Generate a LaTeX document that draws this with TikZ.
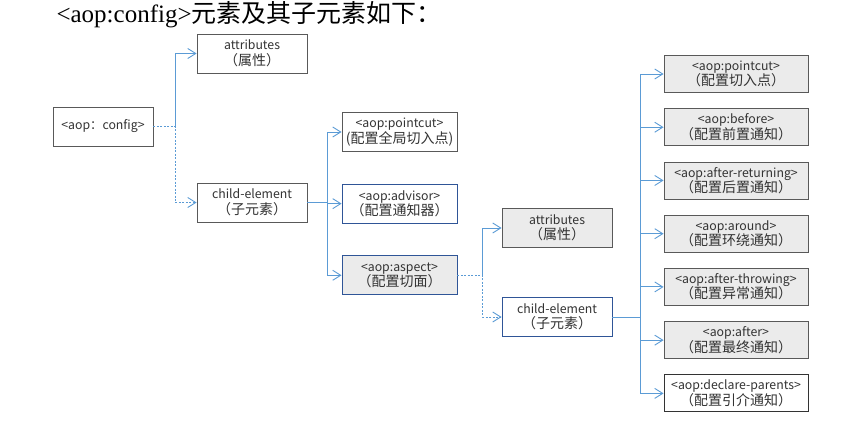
\documentclass[tikz,border=0pt]{standalone}
\usepackage{fontspec}
\setmainfont{Liberation Serif}
\newfontfamily\cjk{Noto Sans CJK SC}
\usetikzlibrary{arrows.meta,positioning,chains,calc}
\definecolor{linkblue}{HTML}{5B9BD5}
\definecolor{boxgray}{HTML}{EBEBEB}
\definecolor{edgegray}{HTML}{595959}
\definecolor{edgeblue}{HTML}{2F5597}
\definecolor{textgray}{HTML}{333333}
\edef\boxheight{39pt}
\newcommand\cn[1]{{\fontsize{14}{15}\selectfont #1}}
\tikzstyle{elem}=[draw=edgegray,line width=0.9pt,fill=white,text=textgray,font=\cjk\fontsize{12.3}{15.5}\selectfont,align=center,minimum height=\boxheight,inner sep=1pt]
\tikzstyle{grayelem}=[elem,fill=boxgray]
\tikzstyle{blueelem}=[elem,draw=edgeblue]
\tikzstyle{advice}=[minimum width=144pt,minimum height=37pt]
\tikzstyle{link}=[draw=linkblue,line width=0.9pt,-{Straight Barb[length=8pt,width=10pt]}]
\tikzstyle{dashlink}=[link,dash pattern=on 2pt off 1.5pt]

\begin{document}
\begin{tikzpicture}[x=1pt,y=-1pt]
		\useasboundingbox (0,0) rectangle (856,420);
		\node[anchor=west,font=\fontsize{25}{25}\selectfont] (title) at (53,15) {<aop:config>\cjk 元素及其子元素如下：};
		
		% root level
		\node[elem,minimum width=100pt] (config) at (103,126.5) {<aop：config>};
		\node[elem,minimum width=110pt] (attr1) at (252,53.5) {attributes\\\cn{（属性）}};
		\node[elem,minimum width=110pt] (child1) at (252,202.5) {child-element\\\cn{（子元素）}};
		
		% children of config
		\begin{scope}[start chain=1 going below, node distance=31.75pt]
		\node [on chain=1,elem,minimum width=115pt] (pc1) at (399.5,132) {<aop:pointcut>\\\cn{(配置全局切入点)}};
		\node [on chain=1,blueelem,minimum width=115pt] (adv) {<aop:advisor>\\\cn{（配置通知器）}};
		\node [on chain=1,blueelem,fill=boxgray,minimum width=115pt] (asp) {<aop:aspect>\\\cn{（配置切面）}};
		\end{scope}
		
		% aspect level
		\node[grayelem,minimum width=110pt] (attr2) at (557,228) {attributes\\\cn{（属性）}};
		\node[blueelem,minimum width=110pt] (child2) at (557,317) {child-element\\\cn{（子元素）}};
		
		% children of aspect
		\begin{scope}[start chain=2 going below, node distance=15.33pt]
		\node [on chain=2,grayelem,advice] (a1) at (736,74) {<aop:pointcut>\\\cn{（配置切入点）}};
		\node [on chain=2,grayelem,advice] (a2) {<aop:before>\\\cn{（配置前置通知）}};
		\node [on chain=2,grayelem,advice] (a3) {<aop:after-returning>\\\cn{（配置后置通知）}};
		\node [on chain=2,grayelem,advice] (a4) {<aop:around>\\\cn{（配置环绕通知）}};
		\node [on chain=2,grayelem,advice] (a5) {<aop:after-throwing>\\\cn{（配置异常通知）}};
		\node [on chain=2,grayelem,advice] (a6) {<aop:after>\\\cn{（配置最终通知）}};
		\node [on chain=2,elem,advice,draw=black!80] (a7) {<aop:declare-parents>\\\cn{（配置引介通知）}};
		\end{scope}
		
		% connectors
		\coordinate (j1) at ($(config.east)+(22,0)$);
		\draw[link] (j1) |- (attr1);
		\draw[dashlink] (config) -- (j1) |- (child1);
		
		\coordinate (j2) at ($(child1.east)+(20,0)$);
		\draw[link] (child1) -- (j2) |- (pc1);
		\draw[link] (j2) |- (adv);
		\draw[link] (j2) |- (asp);
		
		\coordinate (j3) at ($(asp.east)+(25,0)$);
		\draw[link] (j3) |- (attr2);
		\draw[dashlink] (asp) -- (j3) |- (child2);
		
		\coordinate (j4) at ($(child2.east)+(28,0)$);
		\draw[draw=linkblue,line width=0.9pt] (child2) -- (j4);
		\foreach \n in {a1,a2,a3,a4,a5,a6,a7}
			\draw[link] (j4) |- (\n);
\end{tikzpicture}
\end{document}
